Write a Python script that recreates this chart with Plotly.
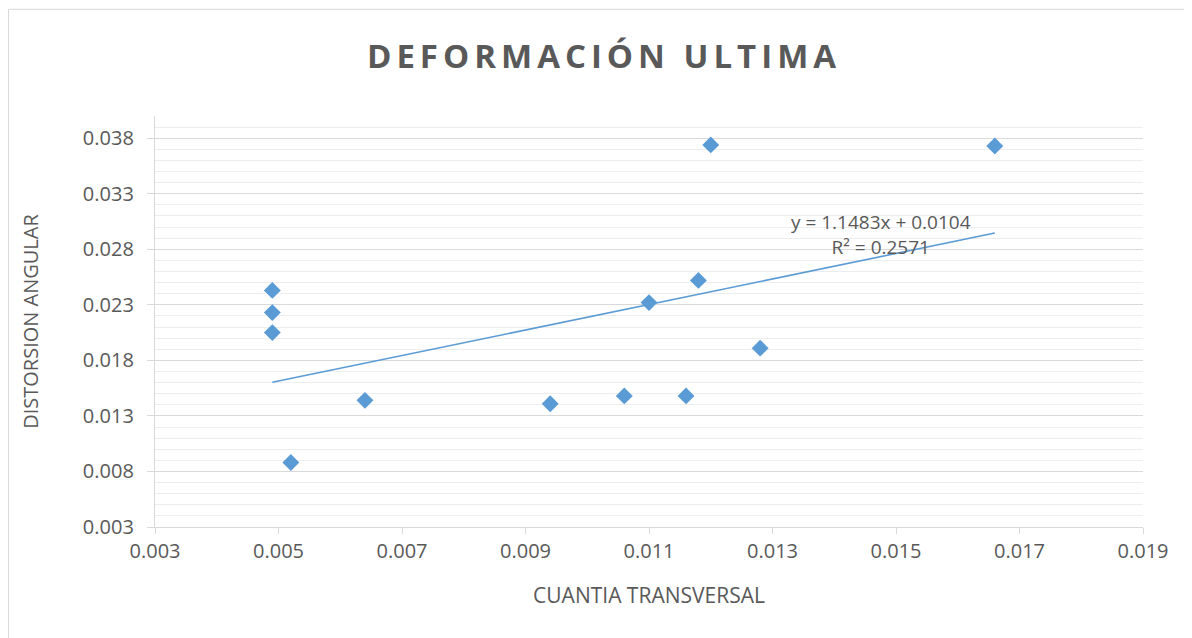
import plotly.graph_objects as go

# data
cuantia = [0.0049, 0.0049, 0.0049, 0.0052, 0.0064, 0.0094, 0.0106, 0.0110,
           0.0116, 0.0118, 0.0120, 0.0128, 0.0166]
distorsion = [0.0243, 0.0223, 0.0205, 0.0088, 0.0144, 0.0141, 0.0148, 0.0232,
              0.0148, 0.0252, 0.0374, 0.0191, 0.0373]
slope = 1.1483
intercept = 0.0104
r2 = 0.2571

x_ticks = [0.003, 0.005, 0.007, 0.009, 0.011, 0.013, 0.015, 0.017, 0.019]
y_ticks = [0.003, 0.008, 0.013, 0.018, 0.023, 0.028, 0.033, 0.038]

TXT = "#595959"
BLUE = "#5B9BD5"
FONT = "Open Sans"

W, H = 1192, 638
ML, MR, MT, MB = 147, 57, 107.8, 119
PW, PH = W - ML - MR, H - MT - MB

x_fit = [min(cuantia), max(cuantia)]
y_fit = [slope * v + intercept for v in x_fit]

fig = go.Figure()
fig.add_trace(go.Scatter(x=x_fit, y=y_fit, mode="lines",
                         line=dict(color=BLUE, width=1.6),
                         hoverinfo="skip", showlegend=False))
fig.add_trace(go.Scatter(x=cuantia, y=distorsion, mode="markers",
                         marker=dict(symbol="diamond", size=13, color=BLUE,
                                     line=dict(width=0)),
                         showlegend=False))

fig.add_annotation(x=0.01476, y=0.02935, xref="x", yref="y",
                   text=f"y = {slope}x + {intercept}<br>R² = {r2}",
                   showarrow=False, align="center",
                   font=dict(family=FONT, size=19, color=TXT))

fig.add_shape(type="rect", xref="paper", yref="paper",
              x0=(0.5 - ML) / PW, x1=1.3, y0=-0.6, y1=1 + (MT - 1) / PH,
              line=dict(color="#D9D9D9", width=1), layer="below")

fig.update_layout(
    width=W, height=H,
    margin=dict(l=ML, r=MR, t=MT, b=MB),
    paper_bgcolor="white", plot_bgcolor="white",
    font=dict(family=FONT, color=TXT),
    title=dict(text='<span style="letter-spacing:5px">DEFORMACIÓN ULTIMA</span>',
               x=0.5, xanchor="center", y=1 - 48 / H, yanchor="middle",
               font=dict(family=FONT, size=33, color=TXT, weight="bold")),
    xaxis=dict(range=[0.003, 0.019], tickmode="array", tickvals=x_ticks,
               ticktext=[f"{v:.3f}" for v in x_ticks],
               showgrid=False, zeroline=False,
               showline=True, linecolor="#D9D9D9", linewidth=1.3,
               ticks="outside", ticklen=6, tickcolor="#D9D9D9",
               tickfont=dict(family=FONT, size=20, color=TXT),
               title=dict(text="CUANTIA TRANSVERSAL", standoff=25,
                          font=dict(family=FONT, size=21, color=TXT))),
    yaxis=dict(range=[0.003, 0.040], tickmode="array", tickvals=y_ticks,
               ticktext=[f"{v:.3f}" for v in y_ticks],
               showgrid=True, gridcolor="#D9D9D9", gridwidth=1.3,
               zeroline=False,
               showline=True, linecolor="#D9D9D9", linewidth=1.3,
               ticks="outside", ticklen=7, tickcolor="#D9D9D9",
               ticklabelstandoff=9,
               tickfont=dict(family=FONT, size=20, color=TXT),
               minor=dict(dtick=0.001, tick0=0.003, showgrid=True,
                          gridcolor="#EDEDED", gridwidth=1.3, ticks=""),
               title=dict(text="DISTORSION ANGULAR", standoff=38,
                          font=dict(family=FONT, size=20, color=TXT))),
)

fig.write_html("out.html")
